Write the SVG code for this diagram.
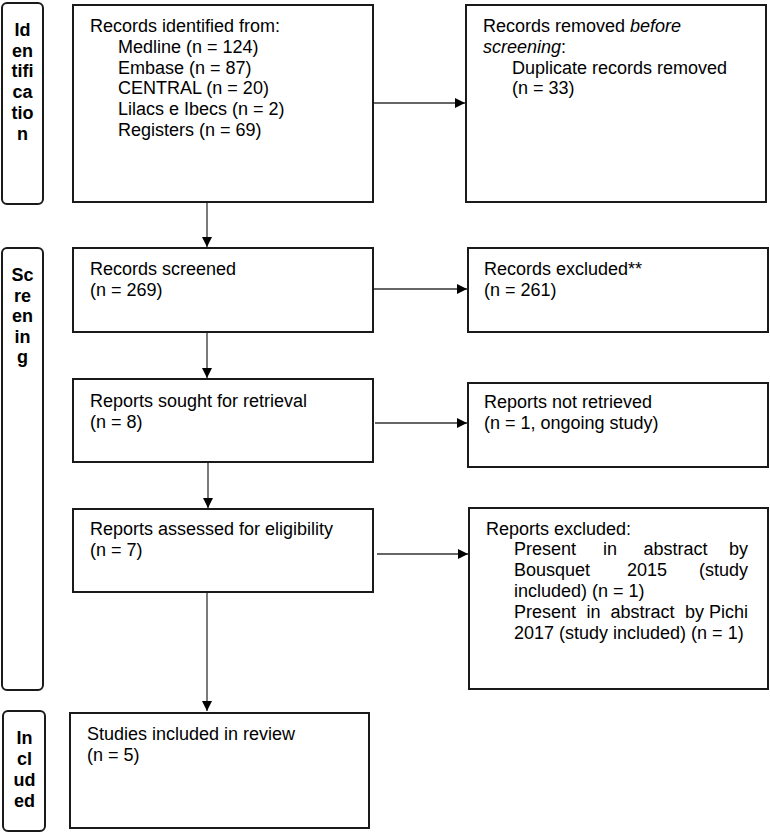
<svg xmlns="http://www.w3.org/2000/svg" width="770" height="833" viewBox="0 0 770 833">
<defs>
<marker id="ah" viewBox="0 0 10 10" refX="10" refY="5" markerWidth="10" markerHeight="10" markerUnits="userSpaceOnUse" orient="auto">
<path d="M0,0 L10,5 L0,10 z" fill="#000"/>
</marker>
<style>
.box{fill:#fff;stroke:#1a1a1a;stroke-width:2}
.side{fill:#fff;stroke:#1a1a1a;stroke-width:2}
.t{font-family:"Liberation Sans",Arial,sans-serif;font-size:18px;fill:#000}
.s{font-family:"Liberation Sans",Arial,sans-serif;font-size:18px;font-weight:bold;fill:#000;text-anchor:middle}
.c{fill:none;stroke:#333;stroke-width:1.3;marker-end:url(#ah)}
</style>
</defs>
<rect width="770" height="833" fill="#fff"/>

<g id="side-identification">
<rect class="side" x="2" y="3" width="41" height="201" rx="5"/>
<text class="s"><tspan x="22.5" y="36">Id</tspan><tspan x="22.5" y="56.7">en</tspan><tspan x="22.5" y="77.4">tifi</tspan><tspan x="22.5" y="98.1">ca</tspan><tspan x="22.5" y="118.8">tio</tspan><tspan x="22.5" y="139.5">n</tspan></text>
</g>
<g id="side-screening">
<rect class="side" x="2" y="248" width="41" height="442" rx="5"/>
<text class="s"><tspan x="22.5" y="281">Sc</tspan><tspan x="22.5" y="301.5">re</tspan><tspan x="22.5" y="322">en</tspan><tspan x="22.5" y="342.5">in</tspan><tspan x="22.5" y="363">g</tspan></text>
</g>
<g id="side-included">
<rect class="side" x="3" y="711" width="42" height="120" rx="5"/>
<text class="s"><tspan x="24.5" y="744">In</tspan><tspan x="24.5" y="765">cl</tspan><tspan x="24.5" y="786">ud</tspan><tspan x="24.5" y="807">ed</tspan></text>
</g>

<g id="records-identified">
<rect class="box" x="73" y="5" width="300" height="197"/>
<text class="t"><tspan x="90" y="32">Records identified from:</tspan><tspan x="118" y="52.8">Medline (n = 124)</tspan><tspan x="118" y="73.6">Embase (n = 87)</tspan><tspan x="118" y="94.4">CENTRAL (n = 20)</tspan><tspan x="118" y="115.2">Lilacs e Ibecs (n = 2)</tspan><tspan x="118" y="136">Registers (n = 69)</tspan></text>
</g>
<g id="records-removed">
<rect class="box" x="466" y="5" width="300" height="197"/>
<text class="t"><tspan x="483" y="32">Records removed <tspan font-style="italic">before</tspan></tspan><tspan x="483" y="52.8"><tspan font-style="italic">screening</tspan>:</tspan><tspan x="512" y="73.6">Duplicate records removed</tspan><tspan x="512" y="94.4">(n = 33)</tspan></text>
</g>
<g id="records-screened">
<rect class="box" x="73" y="248" width="300" height="84"/>
<text class="t"><tspan x="90" y="274.5">Records screened</tspan><tspan x="90" y="295.5">(n = 269)</tspan></text>
</g>
<g id="records-excluded">
<rect class="box" x="468" y="248" width="300" height="84"/>
<text class="t"><tspan x="484" y="274.5">Records excluded**</tspan><tspan x="484" y="295.5">(n = 261)</tspan></text>
</g>
<g id="reports-sought">
<rect class="box" x="73" y="379" width="300" height="83"/>
<text class="t"><tspan x="90" y="406.5">Reports sought for retrieval</tspan><tspan x="90" y="427.5">(n = 8)</tspan></text>
</g>
<g id="reports-not-retrieved">
<rect class="box" x="468" y="383" width="300" height="84"/>
<text class="t"><tspan x="484" y="408">Reports not retrieved</tspan><tspan x="484" y="429">(n = 1, ongoing study)</tspan></text>
</g>
<g id="reports-assessed">
<rect class="box" x="73" y="509" width="300" height="83"/>
<text class="t"><tspan x="90" y="534.5">Reports assessed for eligibility</tspan><tspan x="90" y="555.5">(n = 7)</tspan></text>
</g>
<g id="reports-excluded">
<rect class="box" x="469" y="508" width="299" height="181"/>
<text class="t">
<tspan x="486" y="534.5">Reports excluded:</tspan>
<tspan x="514" y="555.3">Present</tspan><tspan x="603" y="555.3">in</tspan><tspan x="643.5" y="555.3">abstract</tspan><tspan x="753" y="555.3" text-anchor="end">by</tspan>
<tspan x="514" y="576.1">Bousquet</tspan><tspan x="627" y="576.1">2015</tspan><tspan x="753" y="576.1" text-anchor="end">(study</tspan>
<tspan x="514" y="596.9">included) (n = 1)</tspan>
<tspan x="514" y="617.7">Present</tspan><tspan x="586.5" y="617.7">in</tspan><tspan x="610.5" y="617.7">abstract</tspan><tspan x="685" y="617.7">by</tspan><tspan x="753" y="617.7" text-anchor="end">Pichi</tspan>
<tspan x="514" y="638.5">2017 (study included) (n = 1)</tspan>
</text>
</g>
<g id="studies-included">
<rect class="box" x="70" y="713" width="299" height="115"/>
<text class="t"><tspan x="87" y="739.5">Studies included in review</tspan><tspan x="87" y="760.5">(n = 5)</tspan></text>
</g>

<g id="connectors">
<line class="c" x1="207" y1="203" x2="207" y2="247"/>
<line class="c" x1="207" y1="333" x2="207" y2="378"/>
<line class="c" x1="208" y1="463" x2="208" y2="508"/>
<line class="c" x1="207" y1="593" x2="207" y2="711"/>
<line class="c" x1="374" y1="103" x2="465" y2="103"/>
<line class="c" x1="374" y1="289" x2="467" y2="289"/>
<line class="c" x1="375" y1="423" x2="467" y2="423"/>
<line class="c" x1="377" y1="554" x2="468" y2="554"/>
</g>
</svg>
